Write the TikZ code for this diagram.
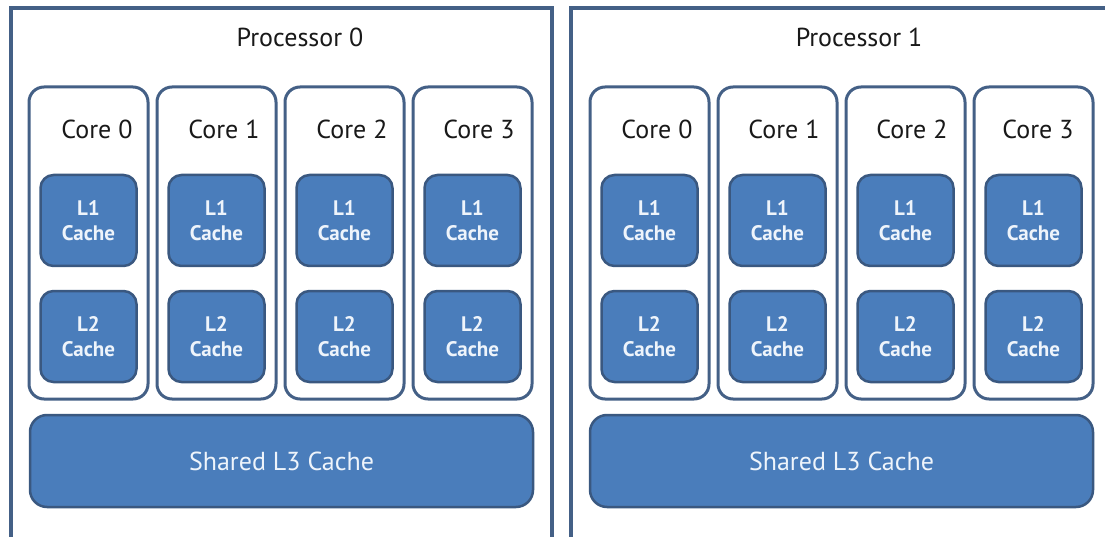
\documentclass[tikz,border=0pt]{standalone}
\usepackage{fontspec}
\setmainfont{PT Sans}
\definecolor{cachefill}{RGB}{74,125,187}
\definecolor{cacheedge}{RGB}{58,88,128}
\definecolor{boxedge}{RGB}{68,96,134}
\definecolor{cachetext}{RGB}{238,244,251}
\tikzset{
  procbox/.style={draw=boxedge, line width=4pt, inner sep=0pt, minimum width=541pt, minimum height=560pt},
  corebox/.style={draw=boxedge, line width=3pt, rounded corners=15pt, inner sep=0pt, minimum width=119pt, minimum height=312pt},
  cachebox/.style={draw=cacheedge, fill=cachefill, line width=2.5pt, rounded corners=13pt, inner sep=0pt,
    minimum width=96pt, minimum height=91pt, text=cachetext, align=center, font=\fontsize{21}{25}\selectfont\bfseries},
  l3box/.style={cachebox, rounded corners=17pt, minimum width=503pt, minimum height=92pt, font=\fontsize{26}{30}\selectfont},
  title/.style={inner sep=0pt, text=black!90, font=\fontsize{26}{30}\selectfont}
}

\begin{document}
\begin{tikzpicture}[x=1pt,y=-1pt]
        \useasboundingbox (0,0) rectangle (1105,537);
        \clip (0,0) rectangle (1105,537);
        \fill[white] (0,0) rectangle (1105,537);

        \node[procbox] (p0) at (281.5,288) {};
        \node[procbox, minimum width=580pt] (p1) at (861,288) {};

        \begin{scope}[every node/.style={corebox}]
            \node (p0c0) at (88.5,243) {};
            \node (p0c1) at (216.5,243) {};
            \node (p0c2) at (344.5,243) {};
            \node (p0c3) at (472.5,243) {};

            \node (p1c0) at (649.5,243) {};
            \node (p1c1) at (777.5,243) {};
            \node (p1c2) at (905.5,243) {};
            \node (p1c3) at (1033.5,243) {};
        \end{scope}

        \begin{scope}[every node/.style={cachebox}]
            \node (p0c0l1) at (88.5,220.5) {L1\\Cache};
            \node (p0c1l1) at (216.5,220.5) {L1\\Cache};
            \node (p0c2l1) at (344.5,220.5) {L1\\Cache};
            \node (p0c3l1) at (472.5,220.5) {L1\\Cache};

            \node (p0c0l2) at (88.5,336.5) {L2\\Cache};
            \node (p0c1l2) at (216.5,336.5) {L2\\Cache};
            \node (p0c2l2) at (344.5,336.5) {L2\\Cache};
            \node (p0c3l2) at (472.5,336.5) {L2\\Cache};

            \node (p1c0l1) at (649.5,220.5) {L1\\Cache};
            \node (p1c1l1) at (777.5,220.5) {L1\\Cache};
            \node (p1c2l1) at (905.5,220.5) {L1\\Cache};
            \node (p1c3l1) at (1033.5,220.5) {L1\\Cache};

            \node (p1c0l2) at (649.5,336.5) {L2\\Cache};
            \node (p1c1l2) at (777.5,336.5) {L2\\Cache};
            \node (p1c2l2) at (905.5,336.5) {L2\\Cache};
            \node (p1c3l2) at (1033.5,336.5) {L2\\Cache};
        \end{scope}

        \node[l3box] (p0l3) at (281.5,461) {Shared L3 Cache};
        \node[l3box] (p1l3) at (841.5,461) {Shared L3 Cache};

        \begin{scope}[every node/.style={title}]
            \node (p0t) at (300,37) {Processor 0};
            \node (p1t) at (859,37) {Processor 1};

            \node (p0c0t) at (97,129) {Core 0};
            \node (p0c1t) at (224,129) {Core 1};
            \node (p0c2t) at (352,129) {Core 2};
            \node (p0c3t) at (479,129) {Core 3};

            \node (p1c0t) at (657,129) {Core 0};
            \node (p1c1t) at (784,129) {Core 1};
            \node (p1c2t) at (912,129) {Core 2};
            \node (p1c3t) at (1038,129) {Core 3};
        \end{scope}
    \end{tikzpicture}
\end{document}
